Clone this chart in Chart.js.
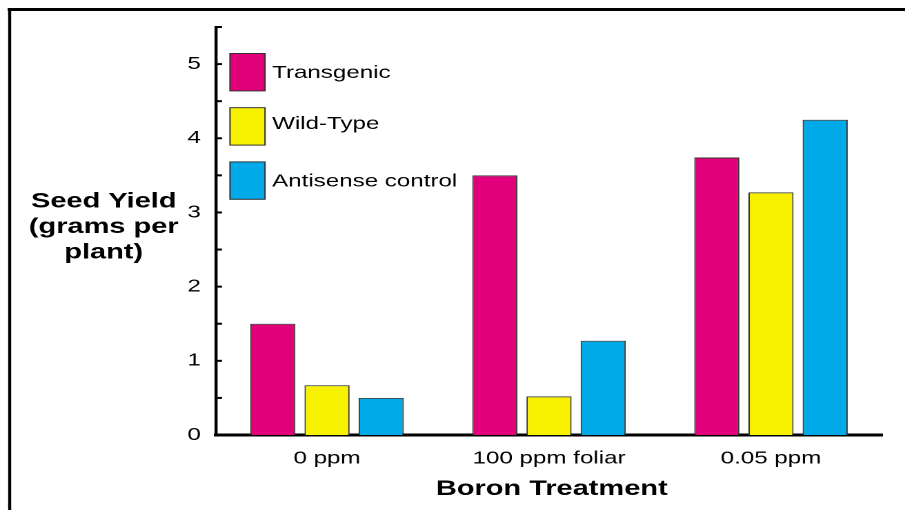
<!DOCTYPE html>
<html>
<head>
<meta charset="utf-8">
<script src="https://cdn.jsdelivr.net/npm/chart.js@4.4.0/dist/chart.umd.min.js"></script>
<style>
  html, body { margin: 0; padding: 0; background: #fff; overflow: hidden; }
  /* the original figure is stretched sideways, so draw narrow and scale */
  #wrap { position: absolute; left: 0; top: 0; width: 656px; height: 510px; transform: scaleX(1.3796); transform-origin: 0 0; }
</style>
</head>
<body>
<div id="wrap"><canvas id="chart"></canvas></div>
<script>
const treatments = ["0 ppm", "100 ppm foliar", "0.05 ppm"];
const seriesNames = ["Transgenic", "Wild-Type", "Antisense control"];
const transgenic = [1.5, 3.5, 3.74];
const wildType = [0.67, 0.52, 3.27];
const antisense = [0.5, 1.27, 4.25];
const yLabels = [0, 1, 2, 3, 4, 5];
const yTitleLines = ["Seed Yield", "(grams per", "plant)"];
const xTitle = "Boron Treatment";

const K = 905 / 656;
const FONT = "'Liberation Sans', Arial, Helvetica, sans-serif";
const colors = ["#e2007a", "#f7f100", "#00a9e8"];

const framePlugin = {
  id: "frame",
  beforeDraw(chart) {
    const ctx = chart.ctx;
    ctx.save();
    ctx.strokeStyle = "#000";
    ctx.lineWidth = 3;
    ctx.beginPath();
    ctx.moveTo(5.5, 9.5);
    ctx.lineTo(chart.width, 9.5);
    ctx.stroke();
    ctx.lineWidth = 2.2;
    ctx.beginPath();
    ctx.moveTo(7, 9.5);
    ctx.lineTo(7, chart.height);
    ctx.stroke();
    ctx.restore();
  }
};

const innerTicksPlugin = {
  id: "innerTicks",
  afterDraw(chart) {
    const s = chart.scales.y;
    const ctx = chart.ctx;
    ctx.save();
    ctx.strokeStyle = "#000";
    ctx.lineWidth = 2;
    s.ticks.forEach(t => {
      const y = s.getPixelForValue(t.value);
      ctx.beginPath();
      ctx.moveTo(s.right, y);
      ctx.lineTo(s.right + 6 / K, y);
      ctx.stroke();
    });
    ctx.restore();
  }
};

const titlesPlugin = {
  id: "titles",
  afterDraw(chart) {
    const ctx = chart.ctx;
    const area = chart.chartArea;
    ctx.save();
    ctx.fillStyle = "#000";
    ctx.font = "bold 21px " + FONT;
    ctx.textAlign = "center";
    ctx.textBaseline = "alphabetic";
    yTitleLines.forEach((line, i) => {
      ctx.fillText(line, 75.2, 207.5 + i * 25.5);
    });
    ctx.fillText(xTitle, (area.left + area.right) / 2 + 2, 495);
    ctx.restore();
  }
};

const legendPlugin = {
  id: "boxLegend",
  afterDraw(chart) {
    const ctx = chart.ctx;
    ctx.save();
    chart.data.datasets.forEach((ds, i) => {
      const top = 53.5 + i * 54.2;
      ctx.fillStyle = ds.backgroundColor;
      ctx.fillRect(166.7, top, 25.4, 37.4);
      ctx.strokeStyle = "#333";
      ctx.lineWidth = 1;
      ctx.strokeRect(166.7, top, 25.4, 37.4);
      ctx.fillStyle = "#000";
      ctx.font = "17.5px " + FONT;
      ctx.textAlign = "left";
      ctx.textBaseline = "alphabetic";
      ctx.fillText(ds.label, 197.2, top + (i === 1 ? 21.5 : 24.5));
    });
    ctx.restore();
  }
};

const seriesData = [transgenic, wildType, antisense];

new Chart(document.getElementById("chart"), {
  type: "bar",
  data: {
    labels: treatments,
    datasets: seriesNames.map((name, i) => ({
      label: name,
      data: seriesData[i],
      backgroundColor: colors[i],
      borderColor: "#333",
      borderWidth: 1,
      categoryPercentage: 0.732,
      barPercentage: 0.833
    }))
  },
  options: {
    responsive: true,
    maintainAspectRatio: false,
    devicePixelRatio: 2,
    animation: false,
    layout: { padding: { left: 0, top: 27, right: 16.7, bottom: 0 } },
    plugins: {
      legend: { display: false },
      tooltip: { enabled: false }
    },
    scales: {
      x: {
        grid: { display: false, drawTicks: false },
        border: { display: true, color: "#000", width: 3 },
        ticks: { color: "#000", font: { family: FONT, size: 17.5 }, padding: 13, maxRotation: 0 },
        afterFit(scale) { scale.height = 75; }
      },
      y: {
        min: 0,
        max: 5.5,
        grid: { display: false, drawTicks: false },
        border: { display: true, color: "#000", width: 2.2 },
        ticks: {
          stepSize: 0.5,
          color: "#000",
          font: { family: FONT, size: 17.5 },
          padding: 11,
          callback: v => (yLabels.includes(v) ? String(v) : "")
        },
        afterFit(scale) { scale.width = 156.6; }
      }
    }
  },
  plugins: [framePlugin, innerTicksPlugin, titlesPlugin, legendPlugin]
});
</script>
</body>
</html>
